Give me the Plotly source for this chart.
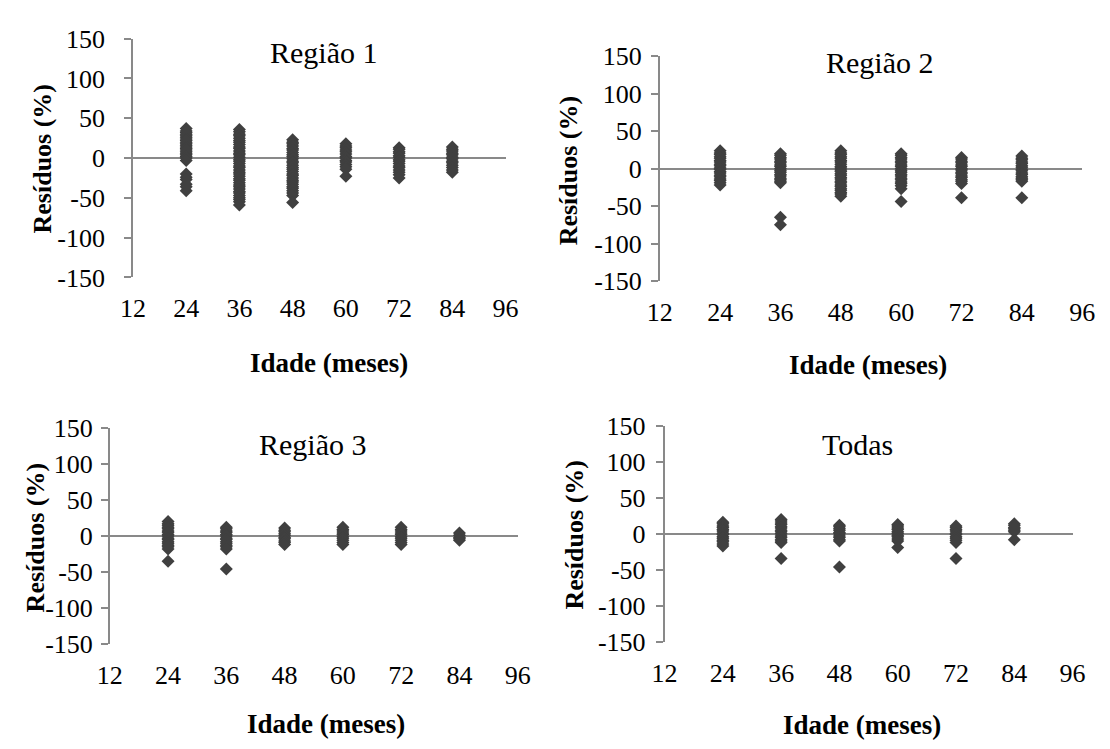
import plotly.graph_objects as go

# ---------------- data ----------------
AGES = [24, 36, 48, 60, 72, 84]
X_TICKS = [12, 24, 36, 48, 60, 72, 84, 96]
Y_TICKS = [-150, -100, -50, 0, 50, 100, 150]
Y_TICK_LABELS = ["-150", "-100", "-50", "0", "50", "100", "150"]
PANEL_TITLES = ["Região 1", "Região 2", "Região 3", "Todas"]
X_TITLE = "Idade (meses)"
Y_TITLE = "Resíduos (%)"

# Região 1 residuals (%) by age (months)
R1_24 = [37, 34, 32, 30, 28, 26, 24, 22, 20, 18, 16, 14, 12, 10, 8, 6, 4, 2, 0, -3, -20, -24, -27, -33, -36, -41]
R1_36 = [36, 33, 30, 28, 25, 22, 20, 17, 14, 12, 9, 6, 4, 1, -2, -4, -7, -10, -12, -15, -18, -20, -23, -26,
         -28, -31, -34, -36, -39, -42, -44, -47, -50, -52, -55, -59]
R1_48 = [23, 20, 18, 15, 12, 10, 7, 4, 2, -1, -4, -6, -9, -12, -14, -17, -20, -22, -25, -28, -30, -33, -36,
         -38, -41, -44, -47, -56]
R1_60 = [18, 15, 13, 10, 8, 5, 2, 0, -3, -5, -8, -11, -14, -23]
R1_72 = [13, 11, 8, 6, 3, 1, -2, -4, -7, -10, -12, -15, -18, -21, -25]
R1_84 = [14, 11, 9, 6, 4, 1, -1, -4, -6, -9, -12, -15, -18]

# Região 2
R2_24 = [24, 21, 19, 16, 14, 11, 9, 6, 4, 1, -1, -4, -6, -9, -11, -14, -16, -19, -22]
R2_36 = [20, 18, 15, 13, 10, 8, 5, 3, 0, -3, -5, -8, -10, -13, -15, -17, -19, -65, -75]
R2_48 = [24, 21, 19, 16, 14, 11, 9, 6, 3, 1, -2, -4, -7, -9, -12, -14, -17, -19, -22, -24, -27, -29, -32,
         -34, -37]
R2_60 = [20, 18, 15, 13, 10, 8, 5, 3, 0, -3, -5, -8, -10, -13, -15, -18, -20, -23, -27, -44]
R2_72 = [15, 13, 10, 8, 5, 3, 0, -2, -5, -7, -10, -12, -15, -17, -20, -39]
R2_84 = [17, 14, 12, 9, 7, 4, 2, -1, -3, -6, -8, -11, -13, -15, -17, -39]

# Região 3
R3_24 = [20, 17, 15, 12, 10, 7, 5, 2, 0, -3, -5, -8, -10, -13, -15, -18, -35]
R3_36 = [12, 10, 7, 5, 2, 0, -3, -5, -8, -10, -13, -15, -18, -46]
R3_48 = [11, 8, 6, 3, 1, -2, -4, -7, -9, -12]
R3_60 = [12, 9, 7, 4, 2, -1, -3, -6, -9, -12]
R3_72 = [12, 9, 7, 4, 2, -1, -3, -6, -9, -12]
R3_84 = [4, 1, -2, -4, -6]

# Todas
R4_24 = [16, 14, 11, 9, 6, 4, 1, -1, -4, -6, -9, -11, -14, -17]
R4_36 = [20, 18, 15, 13, 10, 8, 5, 3, 0, -3, -5, -8, -10, -12, -34]
R4_48 = [12, 10, 7, 5, 2, 0, -3, -5, -8, -10, -46]
R4_60 = [13, 11, 8, 6, 3, 1, -2, -4, -7, -10, -19]
R4_72 = [11, 9, 6, 4, 1, -1, -4, -6, -9, -12, -34]
R4_84 = [14, 12, 9, 7, 5, 3, -8]

PANELS = [
    [R1_24, R1_36, R1_48, R1_60, R1_72, R1_84],
    [R2_24, R2_36, R2_48, R2_60, R2_72, R2_84],
    [R3_24, R3_36, R3_48, R3_60, R3_72, R3_84],
    [R4_24, R4_36, R4_48, R4_60, R4_72, R4_84],
]

# ---------------- layout geometry (pixels in a 1110x749 canvas) ----------------
W, H = 1110, 749
# plot areas: (left, right, top, bottom) in px
AREAS = [
    (122.8, 504.4, 25.7, 274.0),
    (662.3, 1094.8, 44.0, 277.7),
    (99.1, 516.8, 430.7, 655.3),
    (667.2, 1085.0, 428.3, 653.3),
]
TITLE_POS = [(318, 40), (887, 50), (307, 448), (865, 448)]
XTITLE_POS = [(324, 363), (876, 365), (321, 739), (869, 740)]
YTITLE_POS = [(30, 150), (569, 163), (23, 544), (574, 542)]
YLAB_STANDOFF = [14, 4, 3, 5]

FONT = "Liberation Serif, Times New Roman, serif"
AXIS_GREY = "#898989"
MARK = "#404040"

fig = go.Figure()

for i, cols in enumerate(PANELS):
    n = i + 1
    xs, ys = [], []
    for age, vals in zip(AGES, cols):
        xs += [age] * len(vals)
        ys += vals
    fig.add_trace(go.Scatter(
        x=xs, y=ys, mode="markers",
        marker=dict(symbol="diamond", size=10, color=MARK, line=dict(width=0)),
        xaxis=f"x{n}", yaxis=f"y{n}", showlegend=False, hoverinfo="x+y"))

layout = dict(
    width=W, height=H, margin=dict(l=0, r=0, t=0, b=0),
    paper_bgcolor="white", plot_bgcolor="white", showlegend=False,
    font=dict(family=FONT, size=26, color="black"),
)
annotations = []
for i in range(4):
    n = i + 1
    L, R, T, B = AREAS[i]
    xd = [L / W, R / W]
    yd = [1 - B / H, 1 - T / H]
    mid = (yd[0] + yd[1]) / 2
    layout[f"xaxis{n}"] = dict(
        domain=xd, anchor=f"y{n}", range=[12, 96], tickvals=X_TICKS,
        ticks="", showline=False, showgrid=False, zeroline=False,
        tickfont=dict(family=FONT, size=26, color="black"), ticklabelstandoff=13)
    layout[f"yaxis{n}"] = dict(
        domain=yd, anchor=f"x{n}", range=[-150, 150], tickvals=Y_TICKS, ticktext=Y_TICK_LABELS,
        ticks="outside", ticklen=7, tickwidth=1.5, tickcolor=AXIS_GREY,
        showline=True, linecolor=AXIS_GREY, linewidth=1.5, showgrid=False,
        zeroline=True, zerolinecolor=AXIS_GREY, zerolinewidth=2,
        tickfont=dict(family=FONT, size=26, color="black"),
        ticklabelstandoff=YLAB_STANDOFF[i])
    # horizontal category axis crossing at zero (ticks only)
    layout[f"xaxis{n + 4}"] = dict(
        overlaying=f"x{n}", anchor="free", position=mid, range=[12, 96],
        tickvals=X_TICKS, ticks="outside", ticklen=7, tickwidth=1.5,
        tickcolor=AXIS_GREY, showticklabels=False, showline=False,
        showgrid=False, zeroline=False, layer="below traces")
    tx, ty = TITLE_POS[i]
    annotations.append(dict(text=PANEL_TITLES[i], x=tx / W, y=1 - ty / H, xref="paper", yref="paper",
                            xanchor="center", yanchor="middle", showarrow=False,
                            font=dict(family=FONT, size=30, color="black")))
    ax_, ay_ = XTITLE_POS[i]
    annotations.append(dict(text=f"<b>{X_TITLE}</b>", x=ax_ / W, y=1 - ay_ / H, xref="paper", yref="paper",
                            xanchor="center", yanchor="middle", showarrow=False,
                            font=dict(family=FONT, size=27, color="black")))
    bx, by = YTITLE_POS[i]
    annotations.append(dict(text=f"<b>{Y_TITLE}</b>", x=bx / W, y=1 - by / H, xref="paper", yref="paper",
                            xanchor="center", yanchor="middle", showarrow=False, textangle=-90,
                            font=dict(family=FONT, size=26, color="black")))
layout["annotations"] = annotations
fig.update_layout(**layout)

fig.write_html("out.html", config={"displayModeBar": False},
               post_script="document.body.style.margin='0';document.body.style.overflow='hidden';")
